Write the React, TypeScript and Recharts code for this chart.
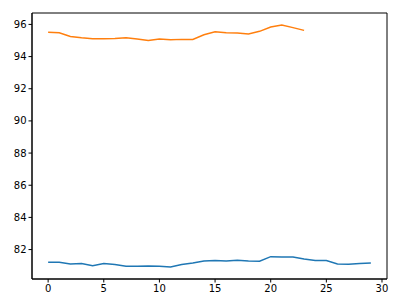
import React from "react";
import { LineChart, Line, XAxis, YAxis, ReferenceArea } from "recharts";

const blueValues = [
  81.21, 81.21, 81.11, 81.13, 81.0, 81.13, 81.07, 80.96, 80.96, 80.98,
  80.96, 80.92, 81.07, 81.17, 81.29, 81.32, 81.29, 81.34, 81.29, 81.27,
  81.56, 81.54, 81.54, 81.41, 81.32, 81.32, 81.1, 81.09, 81.13, 81.16,
];
const orangeValues = [
  95.52, 95.48, 95.25, 95.17, 95.11, 95.11, 95.13, 95.17, 95.09, 95.0,
  95.09, 95.05, 95.07, 95.07, 95.36, 95.55, 95.48, 95.46, 95.4, 95.57,
  95.84, 95.96, 95.8, 95.63,
];
const xTicks = [0, 5, 10, 15, 20, 25, 30];
const yTicks = [82, 84, 86, 88, 90, 92, 94, 96];

const X_DOMAIN: [number, number] = [-1.45, 30.45];
const Y_DOMAIN: [number, number] = [80.17, 96.71];

const blueData = blueValues.map((v, i) => ({ x: i, y: v }));
const orangeData = orangeValues.map((v, i) => ({ x: i, y: v }));

const tickStyle = { fontFamily: "DejaVu Sans", fontSize: 10, fill: "#000" };

export default function App() {
  return (
    <LineChart
      width={392}
      height={292}
      margin={{ top: 5, right: 13, bottom: 0, left: 0 }}
    >
      <XAxis
        type="number"
        dataKey="x"
        domain={X_DOMAIN}
        ticks={xTicks}
        allowDataOverflow
        height={21}
        tickSize={3.5}
        tickMargin={2}
        tick={tickStyle}
        stroke="#000"
        axisLine={{ stroke: "#000", strokeWidth: 1 }}
        tickLine={{ stroke: "#000", strokeWidth: 1 }}
      />
      <YAxis
        type="number"
        dataKey="y"
        domain={Y_DOMAIN}
        ticks={yTicks}
        allowDataOverflow
        width={24}
        tickSize={3.5}
        tickMargin={2}
        tick={tickStyle}
        stroke="#000"
        axisLine={{ stroke: "#000", strokeWidth: 1 }}
        tickLine={{ stroke: "#000", strokeWidth: 1 }}
      />
      <ReferenceArea
        x1={X_DOMAIN[0]}
        x2={X_DOMAIN[1]}
        y1={Y_DOMAIN[0]}
        y2={Y_DOMAIN[1]}
        fill="none"
        stroke="#000"
        strokeWidth={1}
        ifOverflow="visible"
      />
      <Line
        data={blueData}
        dataKey="y"
        stroke="#1f77b4"
        strokeWidth={1.5}
        dot={false}
        isAnimationActive={false}
        type="linear"
      />
      <Line
        data={orangeData}
        dataKey="y"
        stroke="#ff7f0e"
        strokeWidth={1.5}
        dot={false}
        isAnimationActive={false}
        type="linear"
      />
    </LineChart>
  );
}
